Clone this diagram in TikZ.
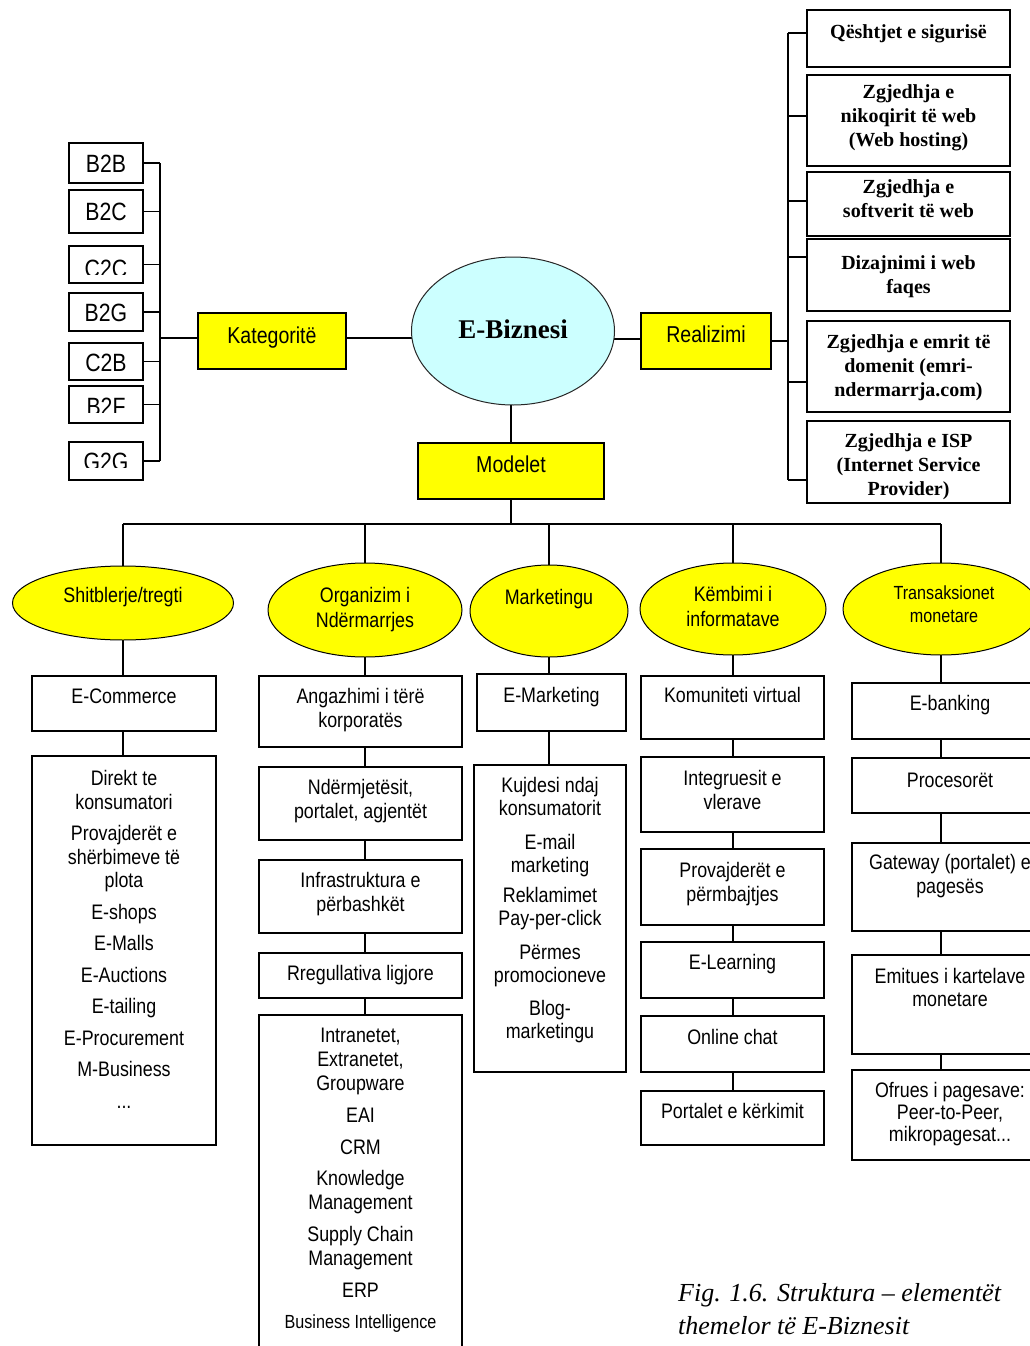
\documentclass[tikz,border=0pt]{standalone}
\usepackage{fontspec}
\setmainfont{Liberation Sans}[FakeStretch=0.85]
\newfontfamily\serifb{Liberation Serif}
\usetikzlibrary{shapes.geometric}
\pgfdeclarelayer{bg}
\pgfsetlayers{bg,main}
\definecolor{yel}{HTML}{FFFF00}
\definecolor{cyn}{HTML}{CCFFFF}
\newcommand\zs{\rule{0pt}{17pt}}
\newcommand\sz[2]{\fontsize{#1}{#2}\selectfont}
\tikzset{
  box/.style={draw=black, line width=1.6pt, fill=white, inner sep=0pt},
  ybox/.style={box, fill=yel},
  yell/.style={ellipse, draw=black, line width=1pt, fill=yel, inner sep=0pt},
  conn/.style={draw=black, line width=1.5pt},
  txt/.style={inner sep=0pt, align=center, anchor=north, font=\sz{21}{23.5}},
  ytxt/.style={inner sep=0pt, align=center, anchor=north, font=\sz{23}{26}},
  ctxt/.style={inner sep=0pt, anchor=center, font=\sz{25}{28}},
  stxt/.style={inner sep=0pt, align=center, anchor=north, font=\serifb\bfseries\sz{20}{24}},
}
\newcommand\bx[6][box]{\node[#1, minimum width={(#5-#3)*1pt}, minimum height={(#6-#4)*1pt}] (#2) at ({(#3+#5)/2},{(#4+#6)/2}) {};}
\begin{document}
\begin{tikzpicture}[x=1pt,y=-1pt]
\begin{pgfonlayer}{bg}\fill[white] (0,0) rectangle (1030,1346);\end{pgfonlayer}
\useasboundingbox (0,0) rectangle (1030,1346);

% ---- left categories
\bx{b2b}{69}{143}{143}{183}
\bx{b2c}{69}{190}{143}{233}
\bx{c2c}{69}{246}{143}{283}
\bx{b2g}{69}{293}{143}{331}
\bx{c2b}{69}{343}{143}{380}
\bx{b2f}{69}{386}{143}{423}
\bx{g2g}{69}{442}{143}{480}
\node[ctxt] (b2b-t) at (106,164) {B2B};
\node[ctxt] (b2c-t) at (106,212) {B2C};
\begin{scope}\clip (69,246) rectangle (143,274);
\node[ctxt] (c2c-t) at (106,269) {C2C};\end{scope}
\node[ctxt] (b2g-t) at (106,313) {B2G};
\node[ctxt] (c2b-t) at (106,363) {C2B};
\begin{scope}\clip (69,386) rectangle (143,412);
\node[ctxt] (b2f-t) at (106,407) {B2F};\end{scope}
\begin{scope}\clip (69,442) rectangle (143,467);
\node[ctxt] (g2g-t) at (106,462) {G2G};\end{scope}
\coordinate (kb) at (160,337);

% ---- yellow boxes and centre
\bx[ybox]{kat}{198}{313}{346}{369}
\node[ytxt] (kat-t) at (272,326.3) {\zs Kategoritë};
\bx[ybox]{real}{641}{313}{771}{369}
\node[ytxt] (real-t) at (706,325.3) {\zs Realizimi};
\bx[ybox]{mod}{418}{443}{604}{499}
\node[ytxt] (mod-t) at (511,455.3) {\zs Modelet};
\node[ellipse, draw=black!85, line width=1pt, fill=cyn, minimum width=203pt, minimum height=148pt, inner sep=0pt] (eb) at (513,331) {};
\node[inner sep=0pt, font=\serifb\bfseries\sz{27}{30}] (eb-t) at (513,329) {E-Biznesi};

% ---- right realisation boxes
\bx{qes}{807}{10}{1010}{67}
\bx{nik}{807}{75}{1010}{166}
\bx{sof}{807}{172}{1010}{236}
\bx{diz}{807}{239}{1010}{311}
\bx{emr}{807}{321}{1010}{412}
\bx{isp}{807}{421}{1010}{503}
\node[stxt] (qes-t) at (908.5,21.6) {\zs Qështjet e sigurisë};
\node[stxt] (nik-t) at (908.5,81.6) {\zs Zgjedhja e\\nikoqirit të web\\(Web hosting)};
\node[stxt] (sof-t) at (908.5,176.6) {\zs Zgjedhja e\\softverit të web};
\node[stxt] (diz-t) at (908.5,252.6) {\zs Dizajnimi i web\\faqes};
\node[stxt] (emr-t) at (908.5,331.6) {\zs Zgjedhja e emrit të\\domenit (emri-\\ndermarrja.com)};
\node[stxt] (isp-t) at (908.5,430.6) {\zs Zgjedhja e ISP\\(Internet Service\\Provider)};
\coordinate (rb) at (788,341);
\coordinate (qesP) at ([yshift=5.5pt]qes.west);
\coordinate (nikP) at ([yshift=4.5pt]nik.west);
\coordinate (sofP) at ([yshift=3pt]sof.west);
\coordinate (dizP) at ([yshift=18pt]diz.west);
\coordinate (emrP) at ([yshift=-15.5pt]emr.west);
\coordinate (ispP) at ([yshift=-18pt]isp.west);

% ---- model ellipses
\node[yell, minimum width=221pt, minimum height=74pt] (sh) at (123,603) {};
\node[yell, minimum width=194pt, minimum height=94pt] (org) at (365,610) {};
\node[yell, minimum width=158pt, minimum height=92pt] (mk) at (549,611) {};
\node[yell, minimum width=186pt, minimum height=92pt] (kem) at (733,609) {};
\node[yell, minimum width=196pt, minimum height=92pt] (tr) at (941,609) {};
\node[txt] (sh-t) at (123,585.6) {\zs Shitblerje/tregti};
\node[txt, font=\sz{21}{25}] (org-t) at (365,585.6) {\zs Organizim i\\Ndërmarrjes};
\node[txt] (mk-t) at (549,587.6) {\zs Marketingu};
\node[txt, font=\sz{21}{25}] (kem-t) at (733,584.6) {\zs Këmbimi i\\informatave};
\node[txt, font=\sz{19}{23}] (tr-t) at (944,581.8) {\zs Transaksionet\\monetare};
\coordinate (mbL) at (123,524);
\coordinate (mbR) at (941,524);

% ---- column 1
\bx{ec}{32}{676}{216}{731}
\bx{ecb}{32}{756}{216}{1145}
\node[txt] (ec-t) at (124,686.6) {\zs E-Commerce};
\node[txt] (ecb-t) at (124,768.6) {\zs Direkt te\\konsumatori\\[8pt]Provajderët e\\shërbimeve të\\plota\\[8pt]E-shops\\[8pt]E-Malls\\[8pt]E-Auctions\\[8pt]E-tailing\\[8pt]E-Procurement\\[8pt]M-Business\\[8pt]...};

% ---- column 2
\bx{ang}{259}{676}{462}{747}
\bx{ndr}{259}{767}{462}{840}
\bx{inf}{259}{860}{462}{933}
\bx{rreg}{259}{953}{462}{998}
\bx{big2}{259}{1015}{462}{1375}
\node[txt] (ang-t) at (360.5,686.6) {\zs Angazhimi i tërë\\korporatës};
\node[txt] (ndr-t) at (360.5,777.6) {\zs Ndërmjetësit,\\portalet, agjentët};
\node[txt] (inf-t) at (360.5,870.6) {\zs Infrastruktura e\\përbashkët};
\node[txt] (rreg-t) at (360.5,963.6) {\zs Rregullativa ligjore};
\node[txt, font=\sz{21}{24}] (big2-t) at (360.5,1025.6) {\zs Intranetet,\\Extranetet,\\Groupware\\[8pt]EAI\\[8pt]CRM\\[7pt]Knowledge\\Management\\[8pt]Supply Chain\\Management\\[8pt]ERP\\[7pt]{\sz{19}{24}Business Intelligence}};

% ---- column 3
\bx{emk}{477}{674}{626}{731}
\bx{mkb}{474}{765}{626}{1072}
\node[txt] (emk-t) at (551.5,685.6) {\zs E-Marketing};
\node[txt, font=\sz{21}{23}] (mkb-t) at (550,775.6) {\zs Kujdesi ndaj\\konsumatorit\\[11pt]E-mail\\marketing\\[7pt]Reklamimet\\Pay-per-click\\[11pt]Përmes\\promocioneve\\[10pt]Blog-\\marketingu};

% ---- column 4
\bx{kom}{641}{676}{824}{739}
\bx{int}{641}{757}{824}{832}
\bx{prv}{641}{849}{824}{925}
\bx{elr}{641}{942}{824}{998}
\bx{onl}{641}{1016}{824}{1072}
\bx{por}{641}{1091}{824}{1145}
\node[txt] (kom-t) at (732.5,685.6) {\zs Komuniteti virtual};
\node[txt] (int-t) at (732.5,768.6) {\zs Integruesit e\\vlerave};
\node[txt] (prv-t) at (732.5,860.6) {\zs Provajderët e\\përmbajtjes};
\node[txt] (elr-t) at (732.5,952.6) {\zs E-Learning};
\node[txt] (onl-t) at (732.5,1027.6) {\zs Online chat};
\node[txt] (por-t) at (732.5,1101.6) {\zs Portalet e kërkimit};

% ---- column 5
\bx{eba}{852}{683}{1048}{739}
\bx{pro}{852}{758}{1048}{813}
\bx{gat}{852}{843}{1048}{931}
\bx{emi}{852}{955}{1048}{1054}
\bx{ofr}{852}{1070}{1048}{1160}
\node[txt] (eba-t) at (950,693.6) {\zs E-banking};
\node[txt] (pro-t) at (950,770.6) {\zs Procesorët};
\node[txt, font=\sz{21}{24}] (gat-t) at (950,852.6) {\zs Gateway (portalet) e\\pagesës};
\node[txt, font=\sz{21}{23}] (emi-t) at (950,966.6) {\zs Emitues i kartelave\\monetare};
\node[txt, font=\sz{21}{22}] (ofr-t) at (950,1080.6) {\zs Ofrues i pagesave:\\Peer-to-Peer,\\mikropagesat...};

% ---- caption
\node[inner sep=0pt, anchor=north west, align=left, font=\serifb\itshape\sz{26}{33}] (cap) at (678,1283.5) {\zs Fig. 1.6. Struktura – elementët\\themelor të E-Biznesit};

% ---- connectors
\begin{pgfonlayer}{bg}
\foreach \n in {b2b,b2c,c2c,b2g,c2b,b2f,g2g} {\draw[conn] (\n.east) -- (\n.east -| kb);}
\draw[conn] (b2b.east -| kb) -- (g2g.east -| kb);
\draw[conn] ([yshift=3pt]kat.west) -- ([yshift=3pt]kat.west -| kb);
\draw[conn] ([yshift=3pt]kat.east) -- ([yshift=3pt]kat.east -| eb.center);
\draw[conn] ([yshift=2pt]real.west) -- ([yshift=2pt]real.west -| eb.center);
\draw[conn] (real.east) -- (real.east -| rb);
\foreach \n in {qesP,nikP,sofP,dizP,emrP,ispP} {\draw[conn] (\n) -- (\n -| rb);}
\draw[conn] (qesP -| rb) -- (ispP -| rb);
\draw[conn] (mod.center) -- (mod.center |- eb.center);
\draw[conn] (mod.center) -- (mod.center |- mbL);
\draw[conn] (mbL) -- (mbR);
\foreach \n in {sh,org,mk,kem,tr} {\draw[conn] (\n.center) -- (\n.center |- mbL);}
\draw[conn] (sh.center) -- (sh.center |- ecb.center);
\draw[conn] (org.center) -- (org.center |- big2.center);
\draw[conn] (mk.center) -- (mk.center |- mkb.center);
\draw[conn] (kem.center) -- (kem.center |- por.center);
\draw[conn] (tr.center) -- (tr.center |- ofr.center);
\end{pgfonlayer}
\end{tikzpicture}
\end{document}
